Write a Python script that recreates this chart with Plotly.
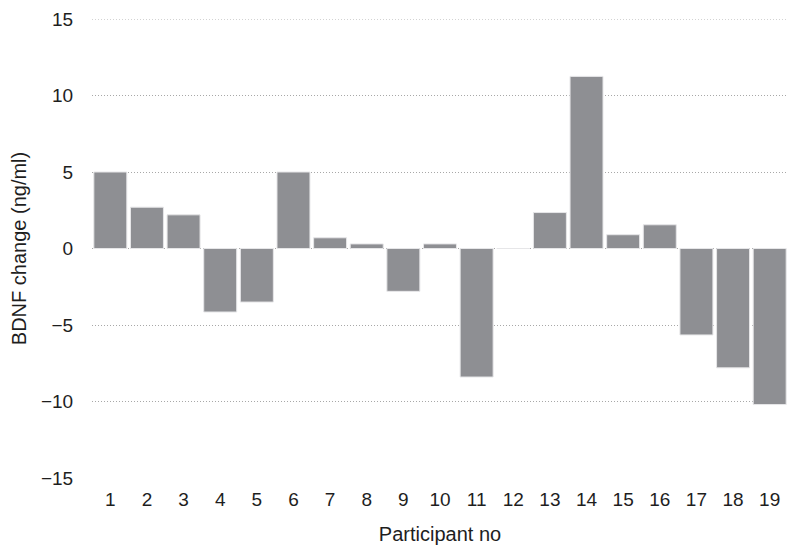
import plotly.graph_objects as go

participants = [str(i) for i in range(1, 20)]
bdnf_change = [5.0, 2.7, 2.2, -4.15, -3.5, 5.0, 0.7, 0.3, -2.8, 0.3,
               -8.4, 0.0, 2.35, 11.25, 0.9, 1.55, -5.65, -7.8, -10.2]
y_ticks = [-15, -10, -5, 0, 5, 10, 15]
y_tick_labels = ["\u221215", "\u221210", "\u22125", "0", "5", "10", "15"]

fig = go.Figure()
fig.add_trace(go.Bar(
    x=participants, y=bdnf_change,
    marker=dict(color="#8e8f93", line=dict(color="#e6e6e8", width=1)),
))

# page body has an 8px margin, so the figure is 792x548 placed at (8, 8)
fig.update_layout(
    width=792, height=548,
    margin=dict(l=84, r=12, t=11, b=78, autoexpand=False),
    paper_bgcolor="white", plot_bgcolor="white",
    font=dict(family="Liberation Sans, Arial, sans-serif", color="#1e1e1e"),
    bargap=0.1,
    showlegend=False,
)
# top gridline at the upper range edge
fig.add_shape(type="line", xref="paper", yref="y", x0=0, x1=1, y0=15, y1=15,
              line=dict(color="#a8a8a8", width=1, dash="1px,2px"), layer="below")
fig.update_xaxes(
    type="category",
    range=[-0.5, 18.5],
    automargin=False,
    showgrid=False, zeroline=False, showline=False,
    ticks="outside", ticklen=4, tickcolor="rgba(0,0,0,0)",
    tickfont=dict(size=19),
    title=dict(text="Participant no", font=dict(size=20), standoff=18),
)
fig.update_yaxes(
    range=[-15, 15],
    automargin=False,
    tickvals=y_ticks, ticktext=y_tick_labels,
    showgrid=True, gridcolor="#a8a8a8", griddash="1px,2px", gridwidth=1,
    zeroline=False, showline=False,
    ticks="outside", ticklen=14, tickcolor="rgba(0,0,0,0)",
    tickfont=dict(size=19),
    title=dict(text="BDNF change (ng/ml)", font=dict(size=20), standoff=8),
)

fig.write_html("out.html")
